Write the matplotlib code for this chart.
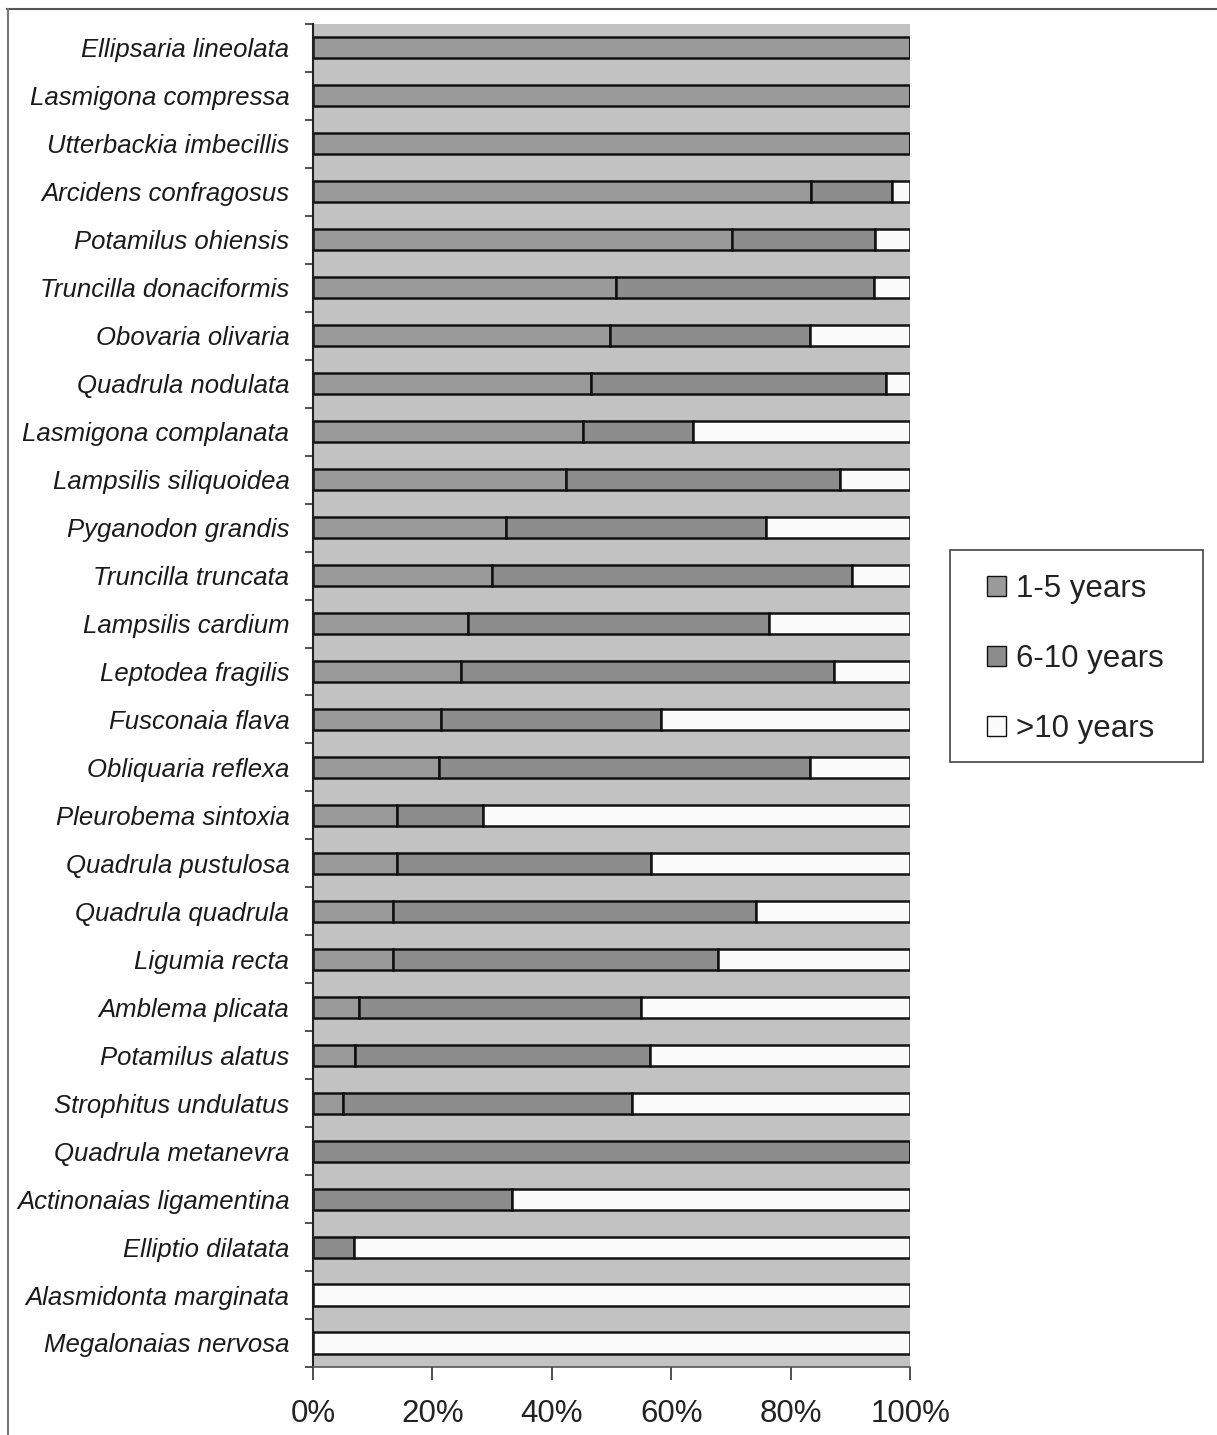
import numpy as np
import matplotlib
matplotlib.use('Agg')
import matplotlib.pyplot as plt
from matplotlib.lines import Line2D
from matplotlib.patches import Patch, Rectangle

plt.rcParams['font.family'] = ['Liberation Sans', 'DejaVu Sans']

species = ['Ellipsaria lineolata', 'Lasmigona compressa', 'Utterbackia imbecillis',
           'Arcidens confragosus', 'Potamilus ohiensis', 'Truncilla donaciformis',
           'Obovaria olivaria', 'Quadrula nodulata', 'Lasmigona complanata',
           'Lampsilis siliquoidea', 'Pyganodon grandis', 'Truncilla truncata',
           'Lampsilis cardium', 'Leptodea fragilis', 'Fusconaia flava',
           'Obliquaria reflexa', 'Pleurobema sintoxia', 'Quadrula pustulosa',
           'Quadrula quadrula', 'Ligumia recta', 'Amblema plicata',
           'Potamilus alatus', 'Strophitus undulatus', 'Quadrula metanevra',
           'Actinonaias ligamentina', 'Elliptio dilatata', 'Alasmidonta marginata',
           'Megalonaias nervosa']

# percent in each age class
yrs_1_5 = [100, 100, 100, 83.4, 70.2, 50.8, 49.7, 46.5, 45.3, 42.4, 32.3, 29.9,
           25.9, 24.8, 21.5, 21.1, 14.0, 14.0, 13.4, 13.4, 7.7, 7.0, 5.0, 0, 0, 0, 0, 0]
yrs_6_10 = [0, 0, 0, 13.6, 24.0, 43.1, 33.5, 49.5, 18.4, 45.8, 43.6, 60.4,
            50.4, 62.4, 36.8, 62.1, 14.4, 42.6, 60.8, 54.5, 47.2, 49.5, 48.4, 100, 33.4, 6.8, 0, 0]
yrs_10p = [100 - a - b for a, b in zip(yrs_1_5, yrs_6_10)]

fig = plt.figure(figsize=(12.17, 14.35), dpi=100)
ax = fig.add_axes([0.2572, 0.0474, 0.4906, 0.9359])
ax.set_facecolor('#c2c2c2')

y = np.arange(len(species))
h = 0.44
c1, c2, c3 = '#9a9a9a', '#8d8d8d', '#fbfbfb'
ax.barh(y, yrs_1_5, height=h, color=c1, edgecolor='#111111', linewidth=1.8)
ax.barh(y, yrs_6_10, left=yrs_1_5, height=h, color=c2, edgecolor='#111111', linewidth=1.8)
left3 = [a + b for a, b in zip(yrs_1_5, yrs_6_10)]
ax.barh(y, yrs_10p, left=left3, height=h, color=c3, edgecolor='#111111', linewidth=1.8)

ax.set_ylim(len(species) - 0.5, -0.5)
ax.set_xlim(0, 100)
ax.set_yticks(y)
ax.set_yticklabels(species, fontsize=18.5, style='italic', color='#1a1a1a')
ax.set_yticks(np.arange(-0.5, len(species), 1), minor=True)
ax.tick_params(axis='y', which='major', length=0, pad=17)
ax.tick_params(axis='y', which='minor', length=6, width=1.2, direction='out', color='#333333')

ax.set_xticks([0, 20, 40, 60, 80, 100])
ax.set_xticklabels(['0%', '20%', '40%', '60%', '80%', '100%'], fontsize=22.5, color='#222222')
ax.tick_params(axis='x', length=9, width=1.2, direction='out', color='#333333', pad=14)

for s in ['top', 'right']:
    ax.spines[s].set_visible(False)
ax.spines['left'].set_linewidth(1.5)
ax.spines['left'].set_color('#222222')
ax.spines['bottom'].set_linewidth(1.2)
ax.spines['bottom'].set_color('#555555')

handles = [Patch(facecolor=c1, edgecolor='#111111', label='1-5 years'),
           Patch(facecolor=c2, edgecolor='#111111', label='6-10 years'),
           Patch(facecolor=c3, edgecolor='#111111', label='>10 years')]
fig.add_artist(Rectangle((0.7806, 0.4690), 0.2079, 0.1477, transform=fig.transFigure,
                         facecolor='white', edgecolor='#444444', linewidth=1.2))
leg = fig.legend(handles=handles, loc='center left', bbox_to_anchor=(0.811, 0.5408),
                 fontsize=22.5, frameon=False, handlelength=0.62,
                 handleheight=0.62, handletextpad=0.3, labelspacing=1.27,
                 borderpad=0, borderaxespad=0)
for t in leg.get_texts():
    t.set_color('#222222')

# scanned page frame
fig.add_artist(Line2D([0.006, 1.0], [0.9935, 0.9935], color='#555555', lw=1.5, transform=fig.transFigure))
fig.add_artist(Line2D([0.0065, 0.0065], [0.0, 0.9935], color='#777777', lw=1.5, transform=fig.transFigure))

fig.savefig('out.png', dpi=100)
